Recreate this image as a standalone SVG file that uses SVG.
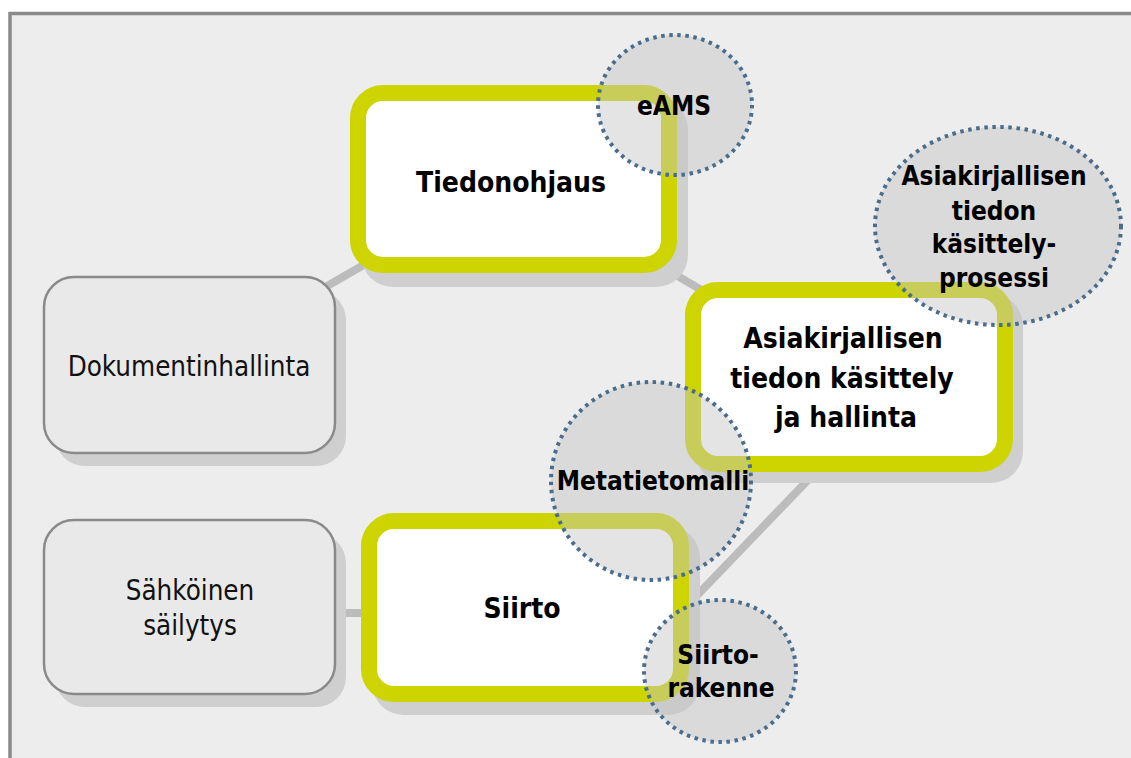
<svg xmlns="http://www.w3.org/2000/svg" width="1131" height="758" viewBox="0 0 1131 758">
<style>
  .shadow { fill: #cfcfd0; }
  .ybox { fill: #ffffff; stroke: #cdd400; stroke-width: 16; }
  .gbox { fill: #e9e9e9; stroke: #8a8a8a; stroke-width: 2.5; }
  .conn { stroke: #bcbcbc; stroke-width: 8; fill: none; }
  .bubble { fill: #c4c4c4; fill-opacity: 0.45; stroke: #4b6d8c; stroke-width: 4; stroke-dasharray: 3.5 4.6; }
  .t-main { font-family: "DejaVu Sans Condensed", "DejaVu Sans", sans-serif; font-weight: bold; font-size: 28px; fill: #000; text-anchor: middle; }
  .t-reg { font-family: "DejaVu Sans Condensed", "DejaVu Sans", sans-serif; font-size: 27.5px; fill: #111; text-anchor: middle; }
  .t-bub { font-family: "DejaVu Sans Condensed", "DejaVu Sans", sans-serif; font-weight: bold; font-size: 26px; fill: #000; text-anchor: middle; }
</style>
<rect x="0" y="0" width="1131" height="758" fill="#ffffff"/>
<rect x="10" y="13.5" width="1140" height="760" fill="#ededed" stroke="#8a8a8a" stroke-width="3.5"/>

<g id="connectors">
  <line class="conn" x1="190" y1="365" x2="513" y2="179"/>
  <line class="conn" x1="513" y1="179" x2="849" y2="377"/>
  <line class="conn" x1="832" y1="455" x2="683" y2="610"/>
  <line class="conn" x1="335" y1="613" x2="365" y2="613"/>
</g>

<g id="node-dokumentinhallinta">
  <rect class="shadow" x="55" y="290" width="291" height="176" rx="30"/>
  <rect class="gbox" x="44" y="277" width="291" height="176" rx="30"/>
  <text class="t-reg" x="189" y="376">Dokumentinhallinta</text>
</g>

<g id="node-sahkoinen">
  <rect class="shadow" x="55" y="533" width="291" height="174" rx="30"/>
  <rect class="gbox" x="44" y="520" width="291" height="174" rx="30"/>
  <text class="t-reg" x="190" y="600">Sähköinen</text>
  <text class="t-reg" x="190" y="635">säilytys</text>
</g>

<g id="node-tiedonohjaus">
  <rect class="shadow" x="361" y="98" width="327" height="189" rx="32"/>
  <rect class="ybox" x="358" y="93" width="311" height="172" rx="25"/>
  <text class="t-main" x="511" y="192">Tiedonohjaus</text>
</g>

<g id="node-asiakirjallisen">
  <rect class="shadow" x="695" y="294" width="328" height="189" rx="32"/>
  <rect class="ybox" x="693" y="290" width="312" height="174" rx="25"/>
  <text class="t-main" x="843" y="348">Asiakirjallisen</text>
  <text class="t-main" x="842" y="388">tiedon käsittely</text>
  <text class="t-main" x="846" y="427">ja hallinta</text>
</g>

<g id="node-siirto">
  <rect class="shadow" x="372" y="526" width="328" height="189" rx="32"/>
  <rect class="ybox" x="369" y="521" width="312" height="173" rx="25"/>
  <text class="t-main" x="522" y="618">Siirto</text>
</g>

<g id="bubble-eams">
  <ellipse class="bubble" cx="675" cy="105" rx="77" ry="70"/>
  <text class="t-bub" x="674" y="115">eAMS</text>
</g>

<g id="bubble-prosessi">
  <ellipse class="bubble" cx="998" cy="226" rx="123" ry="99"/>
  <text class="t-bub" x="994" y="185">Asiakirjallisen</text>
  <text class="t-bub" x="994" y="220">tiedon</text>
  <text class="t-bub" x="994" y="253">käsittely-</text>
  <text class="t-bub" x="994" y="287">prosessi</text>
</g>

<g id="bubble-metatietomalli">
  <ellipse class="bubble" cx="651" cy="481" rx="100" ry="99"/>
  <text class="t-bub" x="653" y="490">Metatietomalli</text>
</g>

<g id="bubble-siirtorakenne">
  <ellipse class="bubble" cx="720" cy="671" rx="76" ry="71"/>
  <text class="t-bub" x="718" y="664">Siirto-</text>
  <text class="t-bub" x="721" y="697">rakenne</text>
</g>
</svg>
